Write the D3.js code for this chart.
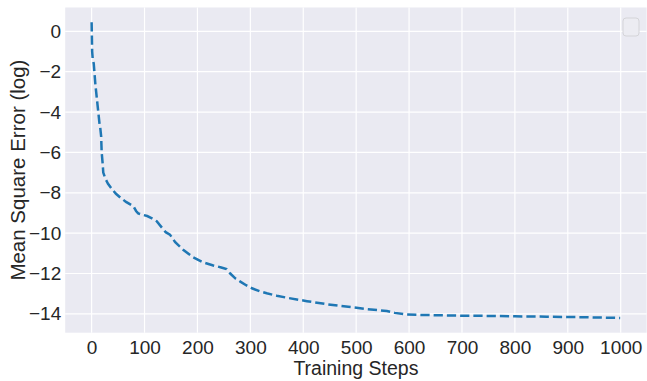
<!DOCTYPE html>
<html>
<head>
<meta charset="utf-8">
<script src="https://cdn.jsdelivr.net/npm/d3@7"></script>
<style>
  body { margin: 0; background: #fff; }
  text { font-family: "Liberation Sans", Arial, sans-serif; fill: #262626; }
</style>
</head>
<body>
<div id="container"></div>
<script>
// training curve
const steps = [0, 1, 2, 4, 7, 11, 15, 16, 18, 19, 21, 22, 26, 31, 38, 46, 55, 65, 79, 84, 88, 95,
  105, 113, 123, 132, 140, 148, 158, 173, 192, 211, 230, 245, 255, 262, 272, 281, 292, 303, 318,
  331, 350, 369, 407, 444, 485, 520, 558, 573, 595, 620, 659, 700, 747, 800, 860, 920, 999]
const mse = [0.45, -1.0, -1.35, -1.6, -2.6, -3.6, -4.6, -4.7, -5.2, -6.0, -6.6, -7.0, -7.3, -7.55, -7.8, -8.05, -8.25, -8.45, -8.67, -8.9, -9.02, -9.08,
  -9.15, -9.25, -9.41, -9.7, -9.95, -10.07, -10.45, -10.82, -11.2, -11.45, -11.6, -11.7, -11.78, -12.0, -12.25, -12.4, -12.58, -12.73, -12.88,
  -12.98, -13.1, -13.2, -13.37, -13.52, -13.65, -13.76, -13.86, -13.95, -14.03, -14.05, -14.07, -14.09, -14.1, -14.12, -14.14, -14.16, -14.2]
const xTicks = [0, 100, 200, 300, 400, 500, 600, 700, 800, 900, 1000]
const yTicks = [-14, -12, -10, -8, -6, -4, -2, 0]

const W = 647, H = 381
const margin = { top: 7.5, right: 0.4, bottom: 48.3, left: 65.2 }
const width = W - margin.left - margin.right
const height = H - margin.top - margin.bottom

const data = steps.map((s, i) => ({ x: s, y: mse[i] }))

// matplotlib style 5% padding
function pad(ext) {
  const d = (ext[1] - ext[0]) * 0.05
  return [ext[0] - d, ext[1] + d]
}

const x = d3.scaleLinear().domain(pad(d3.extent(steps))).range([0, width])
const y = d3.scaleLinear().domain(pad(d3.extent(mse))).range([height, 0])

const svg = d3.select('#container')
  .append('svg')
  .attr('width', W)
  .attr('height', H)

const g = svg.append('g')
  .attr('transform', `translate(${margin.left} ${margin.top})`)

g.append('rect')
  .attr('width', width)
  .attr('height', height)
  .style('fill', '#eaeaf2')

// grid
g.append('g').selectAll('line')
  .data(xTicks)
  .enter().append('line')
  .attr('x1', d => x(d)).attr('x2', d => x(d))
  .attr('y1', 0).attr('y2', height)
  .style('stroke', '#fff')
  .style('stroke-width', 1.2)

g.append('g').selectAll('line')
  .data(yTicks)
  .enter().append('line')
  .attr('x1', 0).attr('x2', width)
  .attr('y1', d => y(d)).attr('y2', d => y(d))
  .style('stroke', '#fff')
  .style('stroke-width', 1.2)

const fmt = d => String(d).replace('-', '\u2212')

// axes
const xAxis = g.append('g')
  .attr('transform', `translate(0 ${height})`)
  .call(d3.axisBottom(x).tickValues(xTicks).tickSize(0).tickPadding(7.5).tickFormat(fmt))
const yAxis = g.append('g')
  .call(d3.axisLeft(y).tickValues(yTicks).tickSize(0).tickPadding(4).tickFormat(fmt))

for (const a of [xAxis, yAxis]) {
  a.select('.domain').remove()
  a.selectAll('text')
    .style('font-size', '19px')
    .style('font-family', '"Liberation Sans", Arial, sans-serif')
    .style('fill', '#262626')
}

// line
g.append('path')
  .datum(data)
  .attr('d', d3.line().x(d => x(d.x)).y(d => y(d.y)))
  .style('fill', 'none')
  .style('stroke', '#1f77b4')
  .style('stroke-width', 2.5)
  .style('stroke-dasharray', '9.25,4')

// labels
svg.append('text')
  .attr('x', margin.left + width / 2)
  .attr('y', 375)
  .attr('text-anchor', 'middle')
  .style('font-size', '19.5px')
  .text('Training Steps')

svg.append('text')
  .attr('transform', `translate(25 ${margin.top + height / 2}) rotate(-90)`)
  .attr('text-anchor', 'middle')
  .style('font-size', '20.5px')
  .text('Mean Square Error (log)')

// empty legend box
svg.append('rect')
  .attr('x', 623).attr('y', 18)
  .attr('width', 16).attr('height', 18)
  .attr('rx', 3)
  .style('fill', '#ececf2')
  .style('stroke', '#d4d4d8')
  .style('stroke-width', 1)
</script>
</body>
</html>
